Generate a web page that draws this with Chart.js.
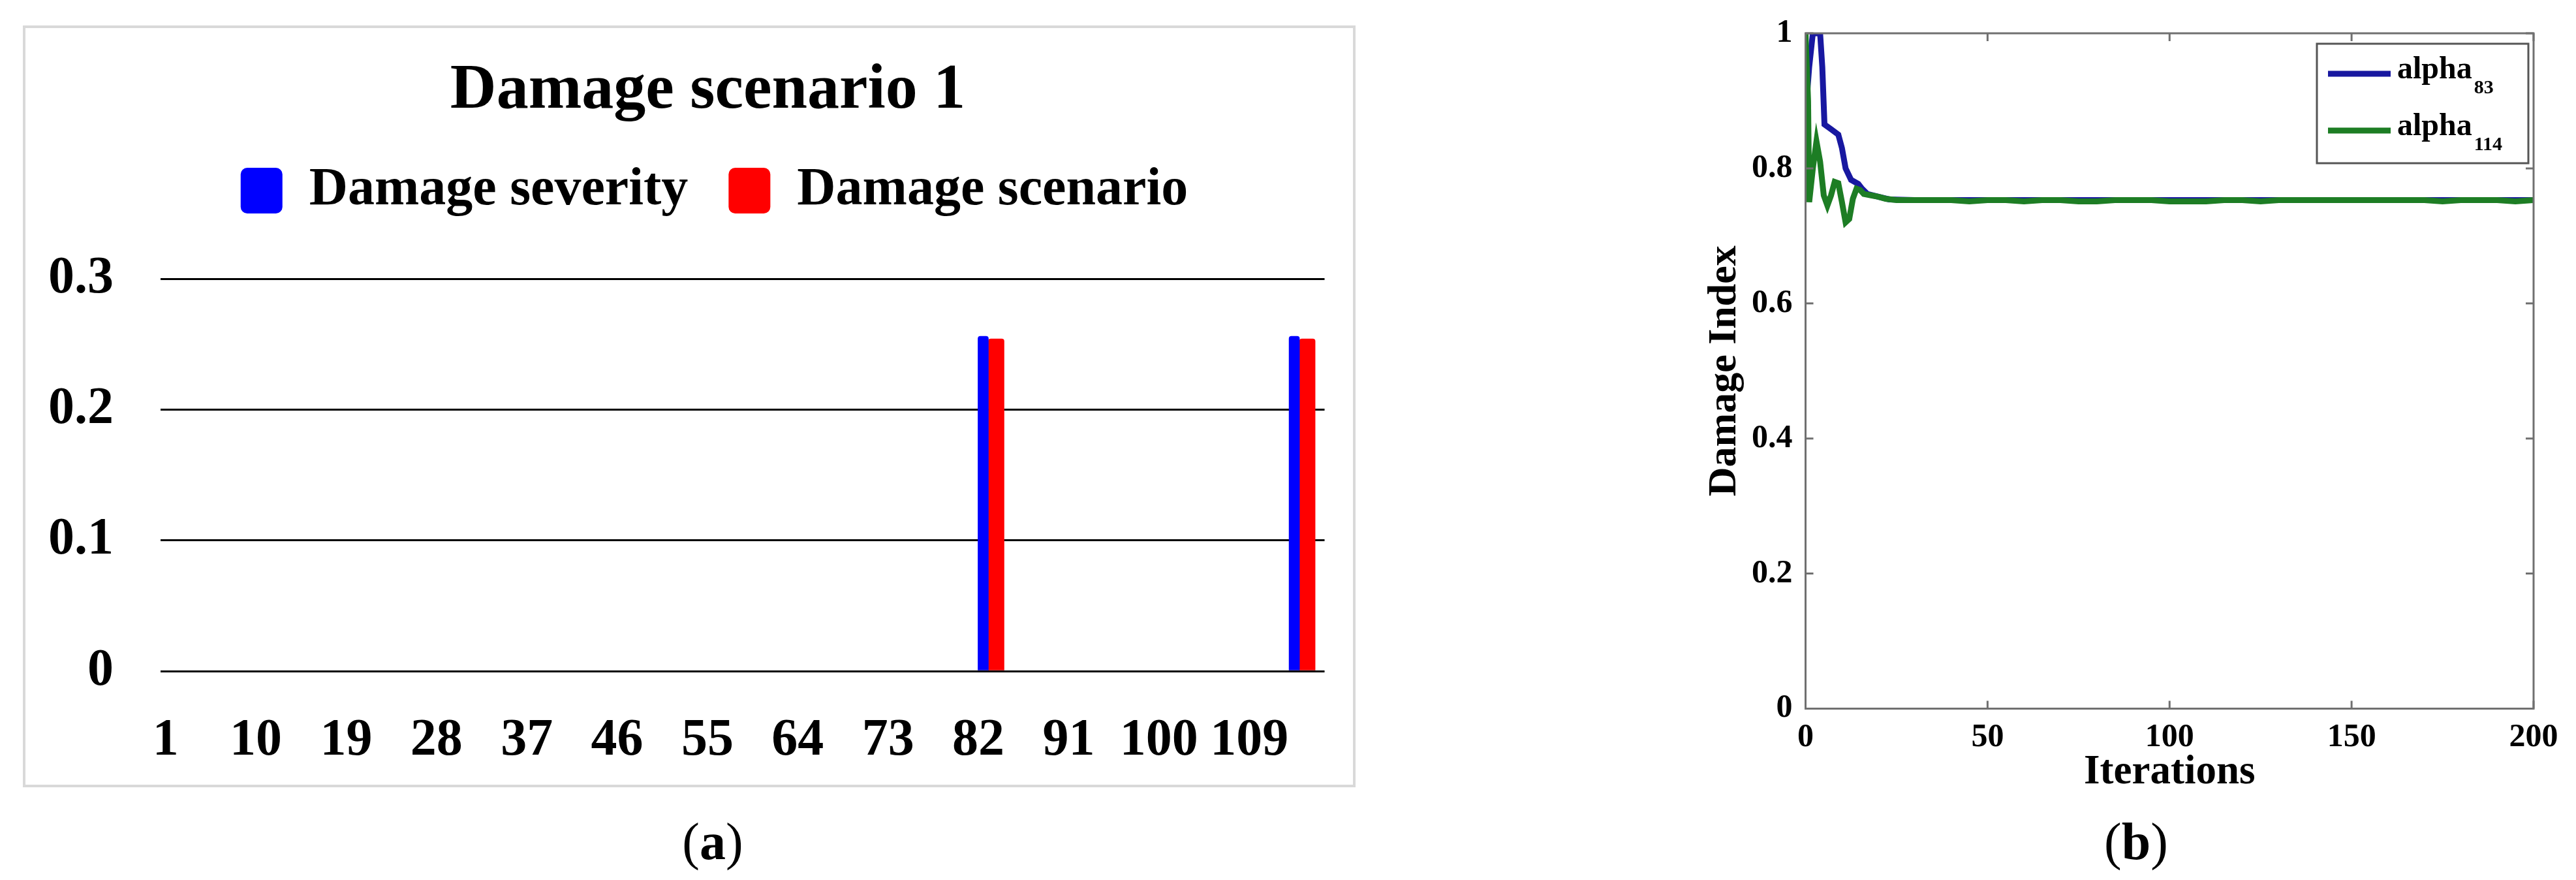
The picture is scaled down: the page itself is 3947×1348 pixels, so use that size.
<!DOCTYPE html>
<html>
<head>
<meta charset="utf-8">
<title>Damage scenario 1 / Damage Index</title>
<script src="https://cdn.jsdelivr.net/npm/chart.js"></script>
<style>
    body { margin: 0; width: 3947px; height: 1348px; background: #fff; position: relative; overflow: hidden;
           font-family: 'Liberation Serif', 'Times New Roman', serif; color: #000; }
    #boxA { position: absolute; left: 35px; top: 39px; width: 2034px; height: 1159px; border: 4px solid #d9d9d9; }
    #chartB { position: absolute; left: 2560px; top: 0; }
    .cap { position: absolute; top: 1249px; font-size: 80px; line-height: 80px; transform: translateX(-50%); white-space: nowrap; }
</style>
</head>
<body>
<div id="boxA"><canvas id="chartA" width="2034" height="1159"></canvas></div>
<canvas id="chartB" width="1387" height="1250"></canvas>
<div class="cap" style="left:1092px">(<b>a</b>)</div>
<div class="cap" style="left:3273px">(<b>b</b>)</div>
<script>
// (a) damage per element
const elements = Array.from({ length: 116 }, (_, i) => String(i + 1));
const shownElements = ['1', '10', '19', '28', '37', '46', '55', '64', '73', '82', '91', '100', '109'];
const damagedElements = ['83', '114'];
const damageSeverity = [0.256, 0.256];
const damageScenario = [0.254, 0.254];

// (b) convergence of the two damage indices
const iter83 = [0, 1, 2, 3, 4, 4.6, 5.2, 7, 9, 10, 11, 12.5, 14.5, 15.5, 17, 20, 23, 30, 40, 50, 60, 70, 80, 90, 100, 110, 120, 130, 140, 150, 160, 170, 180, 190, 200];
const alpha83 = [0.88, 0.95, 1.0, 1.0, 1.0, 0.95, 0.865, 0.858, 0.85, 0.83, 0.80, 0.783, 0.777, 0.77, 0.762, 0.758, 0.754, 0.753, 0.753, 0.753, 0.753, 0.753, 0.753, 0.753, 0.753, 0.753, 0.753, 0.753, 0.753, 0.753, 0.753, 0.753, 0.753, 0.753, 0.753];
const iter114 = [0, 0.7, 1, 2, 3, 4, 5, 6, 7, 8, 9, 10, 11, 12, 13, 14, 15, 16, 18, 20, 22, 25, 30, 35, 40, 45, 50, 55, 60, 65, 70, 75, 80, 85, 90, 95, 100, 105, 110, 115, 120, 125, 130, 135, 140, 145, 150, 155, 160, 165, 170, 175, 180, 185, 190, 195, 200];
const alpha114 = [1.0, 0.9, 0.75, 0.80, 0.84, 0.81, 0.76, 0.745, 0.76, 0.78, 0.778, 0.75, 0.72, 0.725, 0.755, 0.77, 0.768, 0.762, 0.76, 0.758, 0.755, 0.753, 0.753, 0.753, 0.753, 0.751, 0.753, 0.753, 0.751, 0.753, 0.753, 0.751, 0.751, 0.753, 0.753, 0.753, 0.751, 0.751, 0.751, 0.753, 0.753, 0.751, 0.753, 0.753, 0.753, 0.753, 0.753, 0.753, 0.753, 0.753, 0.753, 0.751, 0.753, 0.753, 0.753, 0.751, 0.753];

const serif = "'Liberation Serif', 'Times New Roman', serif";
Chart.defaults.font.family = serif;
Chart.defaults.font.weight = 'bold';
Chart.defaults.color = '#000';

// header of (a): room under the legend, title and legend a bit right of the box centre
const headerA = {
    id: 'headerA',
    beforeInit(chart) {
        const fit = chart.legend.fit;
        chart.legend.fit = function () {
            fit.call(this);
            this.height += 84;
        };
    },
    afterLayout(chart) {
        chart.titleBlock.left += 32;
        chart.titleBlock.right += 32;
        chart.legend.left += 42;
        chart.legend.right += 42;
    }
};

new Chart(document.getElementById('chartA'), {
    type: 'bar',
    data: {
        labels: elements,
        datasets: [
            {
                label: 'Damage severity',
                data: damagedElements.map((e, i) => ({ x: e, y: damageSeverity[i] })),
                backgroundColor: '#0000ff',
                barThickness: 16,
                borderRadius: 4
            },
            {
                label: 'Damage scenario',
                data: damagedElements.map((e, i) => ({ x: e, y: damageScenario[i] })),
                backgroundColor: '#ff0000',
                barThickness: 24,
                borderRadius: 4
            }
        ]
    },
    options: {
        responsive: false,
        animation: false,
        layout: { padding: { left: 30, right: 37, top: 0, bottom: 0 } },
        plugins: {
            title: {
                display: true,
                text: 'Damage scenario 1',
                font: { size: 98, lineHeight: 1 },
                padding: { top: 48, bottom: 0 }
            },
            legend: {
                labels: {
                    font: { size: 82 },
                    boxWidth: 64,
                    boxHeight: 70,
                    useBorderRadius: true,
                    borderRadius: 10,
                    padding: 62
                }
            },
            tooltip: { enabled: false }
        },
        scales: {
            x: {
                grid: { display: false },
                border: { display: false },
                ticks: {
                    autoSkip: false,
                    maxRotation: 0,
                    minRotation: 0,
                    padding: 51,
                    font: { size: 80 },
                    callback: function (value) {
                        const lab = this.getLabelForValue(value);
                        return shownElements.includes(lab) ? lab : '';
                    }
                },
                afterFit: s => { s.height = 174; }
            },
            y: {
                min: 0,
                max: 0.3,
                ticks: { stepSize: 0.1, padding: 72, font: { size: 80 } },
                grid: { color: '#000', lineWidth: 3, drawTicks: false },
                border: { display: false },
                afterFit: s => { s.width = 177; }
            }
        }
    },
    plugins: [headerA]
});

// box and inward ticks of (b)
const frameB = {
    id: 'frameB',
    afterDatasetsDraw(chart) {
        const { ctx, chartArea: a, scales: { x, y } } = chart;
        ctx.save();
        ctx.strokeStyle = '#707070';
        ctx.lineWidth = 3;
        ctx.strokeRect(a.left, a.top, a.right - a.left, a.bottom - a.top);
        ctx.beginPath();
        x.ticks.forEach(t => {
            const px = x.getPixelForValue(t.value);
            ctx.moveTo(px, a.bottom); ctx.lineTo(px, a.bottom - 12);
            ctx.moveTo(px, a.top); ctx.lineTo(px, a.top + 12);
        });
        y.ticks.forEach(t => {
            const py = y.getPixelForValue(t.value);
            ctx.moveTo(a.left, py); ctx.lineTo(a.left + 12, py);
            ctx.moveTo(a.right, py); ctx.lineTo(a.right - 12, py);
        });
        ctx.stroke();
        ctx.restore();
    }
};

// legend of (b) with subscripts
const legendB = {
    id: 'legendB',
    afterDraw(chart) {
        const { ctx, chartArea: a } = chart;
        const w = 324, h = 183;
        const right = a.right - 8, top = a.top + 16, left = right - w;
        ctx.save();
        ctx.fillStyle = '#fff';
        ctx.fillRect(left, top, w, h);
        ctx.strokeStyle = '#555';
        ctx.lineWidth = 3;
        ctx.strokeRect(left, top, w, h);
        chart.data.datasets.forEach((ds, i) => {
            const cy = top + 46 + i * 87;
            ctx.strokeStyle = ds.borderColor;
            ctx.lineWidth = 9;
            ctx.beginPath();
            ctx.moveTo(left + 17, cy);
            ctx.lineTo(left + 113, cy);
            ctx.stroke();
            ctx.fillStyle = '#000';
            ctx.textAlign = 'left';
            ctx.textBaseline = 'alphabetic';
            ctx.font = 'bold 48px ' + serif;
            ctx.fillText(ds.name, left + 123, cy + 7);
            const wMain = ctx.measureText(ds.name).width;
            ctx.font = 'bold 30px ' + serif;
            ctx.fillText(ds.sub, left + 126 + wMain, cy + 30);
        });
        ctx.restore();
    }
};

new Chart(document.getElementById('chartB'), {
    type: 'line',
    data: {
        datasets: [
            {
                label: 'alpha83',
                name: 'alpha',
                sub: '83',
                data: iter83.map((it, i) => ({ x: it, y: alpha83[i] })),
                borderColor: '#1818a0',
                borderWidth: 9,
                pointRadius: 0,
                order: 1
            },
            {
                label: 'alpha114',
                name: 'alpha',
                sub: '114',
                data: iter114.map((it, i) => ({ x: it, y: alpha114[i] })),
                borderColor: '#1d7d24',
                borderWidth: 9,
                pointRadius: 0,
                order: 0
            }
        ]
    },
    options: {
        responsive: false,
        animation: false,
        layout: { padding: { left: 20, right: 65, top: 51, bottom: 14.5 } },
        plugins: {
            legend: { display: false },
            tooltip: { enabled: false }
        },
        scales: {
            x: {
                type: 'linear',
                min: 0,
                max: 200,
                ticks: { stepSize: 50, padding: 7, font: { size: 50 } },
                grid: { display: false },
                border: { display: false },
                title: { display: true, text: 'Iterations', font: { size: 63 }, padding: { top: 0, bottom: 13.7 } },
                afterFit: s => { s.height = 150; }
            },
            y: {
                min: 0,
                max: 1,
                ticks: { stepSize: 0.2, padding: 12, font: { size: 50 }, callback: v => String(Number(v.toFixed(1))) },
                grid: { display: false },
                border: { display: false },
                title: { display: true, text: 'Damage Index', font: { size: 62 }, padding: { top: 25.8, bottom: 0 } },
                afterFit: s => { s.width = 186.5; }
            }
        }
    },
    plugins: [frameB, legendB]
});
</script>
</body>
</html>
